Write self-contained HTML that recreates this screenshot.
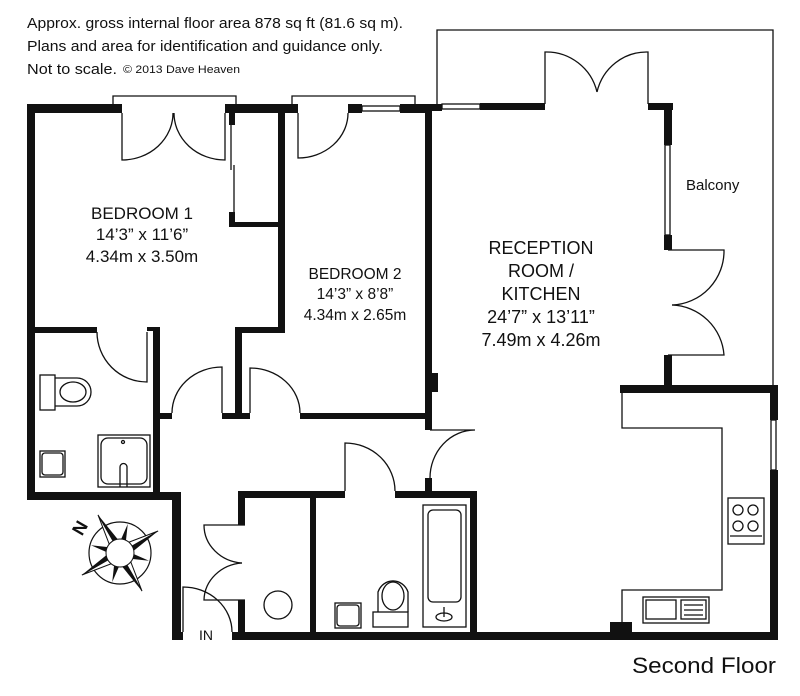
<!DOCTYPE html>
<html><head><meta charset="utf-8"><style>
html,body{margin:0;padding:0;background:#fff;}
svg{display:block;}
text{font-family:"Liberation Sans",Arial,sans-serif;fill:#111;}
</style></head><body>
<svg width="800" height="696" viewBox="0 0 800 696" xmlns="http://www.w3.org/2000/svg">
<rect width="800" height="696" fill="#fff"/>
<text x="27" y="28" font-size="15" textLength="376" lengthAdjust="spacingAndGlyphs">Approx. gross internal floor area 878 sq ft (81.6 sq m).</text>
<text x="27" y="51" font-size="15" textLength="356" lengthAdjust="spacingAndGlyphs">Plans and area for identification and guidance only.</text>
<text x="27" y="74" font-size="15" textLength="90" lengthAdjust="spacingAndGlyphs">Not to scale.</text>
<text x="123" y="73" font-size="11" textLength="117" lengthAdjust="spacingAndGlyphs">© 2013 Dave Heaven</text>

<g fill="none" stroke="#111" stroke-width="1.3">
<polyline points="437,104 437,30 773,30 773,388"/>
<polyline points="113,104 113,96 236,96 236,104"/>
<polyline points="292,104 292,96 415,96 415,104"/>
<rect x="362" y="106" width="38" height="5"/>
<rect x="442" y="104" width="38" height="5"/>
<rect x="665" y="145" width="5" height="90"/>
<rect x="771" y="420" width="5" height="50"/>
<path d="M122,113 V160 A51,47 0 0 0 173,113"/>
<path d="M225,113 V160 A51,47 0 0 1 174,113"/>
<path d="M298,113 V158 A50,45 0 0 0 348,113"/>
<line x1="231" y1="125" x2="231" y2="170"/>
<line x1="234" y1="165" x2="234" y2="212"/>
<path d="M147,332 V382 A50,50 0 0 1 97,332"/>
<path d="M222,413 V367 A50,46 0 0 0 172,413"/>
<path d="M250,413 V368 A50,45 0 0 1 300,413"/>
<path d="M430,430 H475 A45,48 0 0 0 430,478"/>
<path d="M345,491 V443 A50,48 0 0 1 395,491"/>
<path d="M245,525 H204 A41,38 0 0 0 242,563"/>
<path d="M245,600 H204 A41,38 0 0 1 242,563"/>
<path d="M183,632 V587 A49,45 0 0 1 232,632"/>
<path d="M545,104 V52 A52,52 0 0 1 597,92"/>
<path d="M648,104 V52 A51,52 0 0 0 597,92"/>
<path d="M668,250 H724 A54,54 0 0 1 672,305"/>
<path d="M668,355 H724 A54,54 0 0 0 672,305"/>
<polyline points="622,393 622,428 722,428 722,590 622,590 622,625"/>
<rect x="728" y="498" width="36" height="46"/>
<circle cx="738" cy="510" r="5"/><circle cx="753" cy="510" r="5"/>
<circle cx="738" cy="526" r="5"/><circle cx="753" cy="526" r="5"/>
<line x1="730" y1="536" x2="762" y2="536"/>
<rect x="643" y="597" width="66" height="26"/>
<rect x="646" y="600" width="30" height="19"/>
<rect x="681" y="600" width="25" height="19"/>
<line x1="684" y1="605" x2="703" y2="605"/><line x1="684" y1="610" x2="703" y2="610"/><line x1="684" y1="615" x2="703" y2="615"/>
<rect x="40" y="375" width="15" height="35"/>
<path d="M55,378 H77 A14,14 0 0 1 77,406 H55"/>
<ellipse cx="73" cy="392" rx="13" ry="10"/>
<rect x="40" y="451" width="25" height="26"/>
<rect x="42" y="453" width="21" height="22" rx="3"/>
<rect x="98" y="435" width="52" height="52"/>
<rect x="101" y="438" width="46" height="46" rx="7"/>
<circle cx="123" cy="442" r="1.5"/>
<path d="M120,487 V467 A3.5,3.5 0 0 1 127,467 V487"/>
<rect x="423" y="505" width="43" height="122"/>
<rect x="428" y="510" width="33" height="92" rx="5"/>
<ellipse cx="444" cy="617" rx="8" ry="4"/>
<line x1="444" y1="607" x2="444" y2="617"/>
<path d="M378,612 V592 A16,17 0 0 1 408,592 V612"/>
<ellipse cx="393" cy="596" rx="11" ry="14"/>
<rect x="373" y="612" width="35" height="15"/>
<rect x="335" y="603" width="26" height="25"/>
<rect x="337" y="605" width="22" height="21" rx="3"/>
<circle cx="278" cy="605" r="14"/>
</g>

<g fill="#111">
<rect x="27" y="104" width="95" height="9"/>
<rect x="225" y="104" width="73" height="9"/>
<rect x="348" y="104" width="14" height="9"/>
<rect x="400" y="104" width="32" height="9"/>
<rect x="425" y="104" width="17" height="7"/>
<rect x="480" y="103" width="65" height="7"/>
<rect x="648" y="103" width="25" height="7"/>
<rect x="664" y="103" width="8" height="42"/>
<rect x="664" y="235" width="8" height="15"/>
<rect x="664" y="355" width="8" height="33"/>
<rect x="620" y="385" width="158" height="8"/>
<rect x="770" y="385" width="8" height="35"/>
<rect x="770" y="470" width="8" height="170"/>
<rect x="610" y="622" width="22" height="10"/>
<rect x="232" y="632" width="546" height="8"/>
<rect x="27" y="104" width="8" height="396"/>
<rect x="27" y="492" width="153" height="8"/>
<rect x="172" y="492" width="9" height="148"/>
<rect x="172" y="632" width="11" height="8"/>
<rect x="229" y="113" width="6" height="12"/>
<rect x="229" y="212" width="6" height="15"/>
<rect x="229" y="222" width="50" height="5"/>
<rect x="278" y="104" width="7" height="228"/>
<rect x="35" y="327" width="62" height="6"/>
<rect x="147" y="327" width="6" height="4"/>
<rect x="153" y="327" width="7" height="172"/>
<rect x="160" y="413" width="12" height="6"/>
<rect x="235" y="327" width="50" height="6"/>
<rect x="235" y="327" width="7" height="90"/>
<rect x="222" y="413" width="28" height="6"/>
<rect x="300" y="413" width="132" height="6"/>
<rect x="425" y="110" width="7" height="320"/>
<rect x="425" y="373" width="13" height="19"/>
<rect x="425" y="478" width="7" height="16"/>
<rect x="238" y="491" width="107" height="7"/>
<rect x="395" y="491" width="82" height="7"/>
<rect x="238" y="491" width="7" height="34"/>
<rect x="238" y="600" width="7" height="32"/>
<rect x="310" y="491" width="6" height="141"/>
<rect x="470" y="491" width="7" height="141"/>
</g>

<g transform="translate(120,553)">
<circle r="31" fill="none" stroke="#111" stroke-width="1.2"/>
<g transform="rotate(-30)">
<polygon points="0,-44 6,-6 0,0" fill="#111"/><polygon points="0,-44 -6,-6 0,0" fill="#fff" stroke="#111"/>
<polygon points="0,44 -6,6 0,0" fill="#111"/><polygon points="0,44 6,6 0,0" fill="#fff" stroke="#111"/>
<polygon points="-44,0 -6,-6 0,0" fill="#111"/><polygon points="-44,0 -6,6 0,0" fill="#fff" stroke="#111"/>
<polygon points="44,0 6,6 0,0" fill="#111"/><polygon points="44,0 6,-6 0,0" fill="#fff" stroke="#111"/>
<g transform="rotate(45)">
<polygon points="0,-30 4,-4 -4,-4" fill="#111"/><polygon points="0,30 4,4 -4,4" fill="#111"/>
<polygon points="-30,0 -4,4 -4,-4" fill="#111"/><polygon points="30,0 4,4 4,-4" fill="#111"/>
</g>
</g>
<circle r="14" fill="#fff" stroke="#111" stroke-width="1"/>
</g>
<text x="80" y="534" font-size="18" font-weight="bold" transform="rotate(-60 80 528)" text-anchor="middle">N</text>

<g text-anchor="middle">
<text x="142" y="219" font-size="17">BEDROOM 1</text>
<text x="142" y="240" font-size="17">14’3” x 11’6”</text>
<text x="142" y="262" font-size="17">4.34m x 3.50m</text>
<text x="355" y="279" font-size="15.5">BEDROOM 2</text>
<text x="355" y="299" font-size="15.5">14’3” x 8’8”</text>
<text x="355" y="320" font-size="15.5">4.34m x 2.65m</text>
<text x="541" y="254" font-size="18">RECEPTION</text>
<text x="541" y="277" font-size="18">ROOM /</text>
<text x="541" y="300" font-size="18">KITCHEN</text>
<text x="541" y="323" font-size="18">24’7” x 13’11”</text>
<text x="541" y="346" font-size="18">7.49m x 4.26m</text>
</g>
<text x="686" y="190" font-size="15">Balcony</text>
<text x="199" y="640" font-size="14">IN</text>
<text x="632" y="673" font-size="22" textLength="144" lengthAdjust="spacingAndGlyphs">Second Floor</text>
</svg>
</body></html>
